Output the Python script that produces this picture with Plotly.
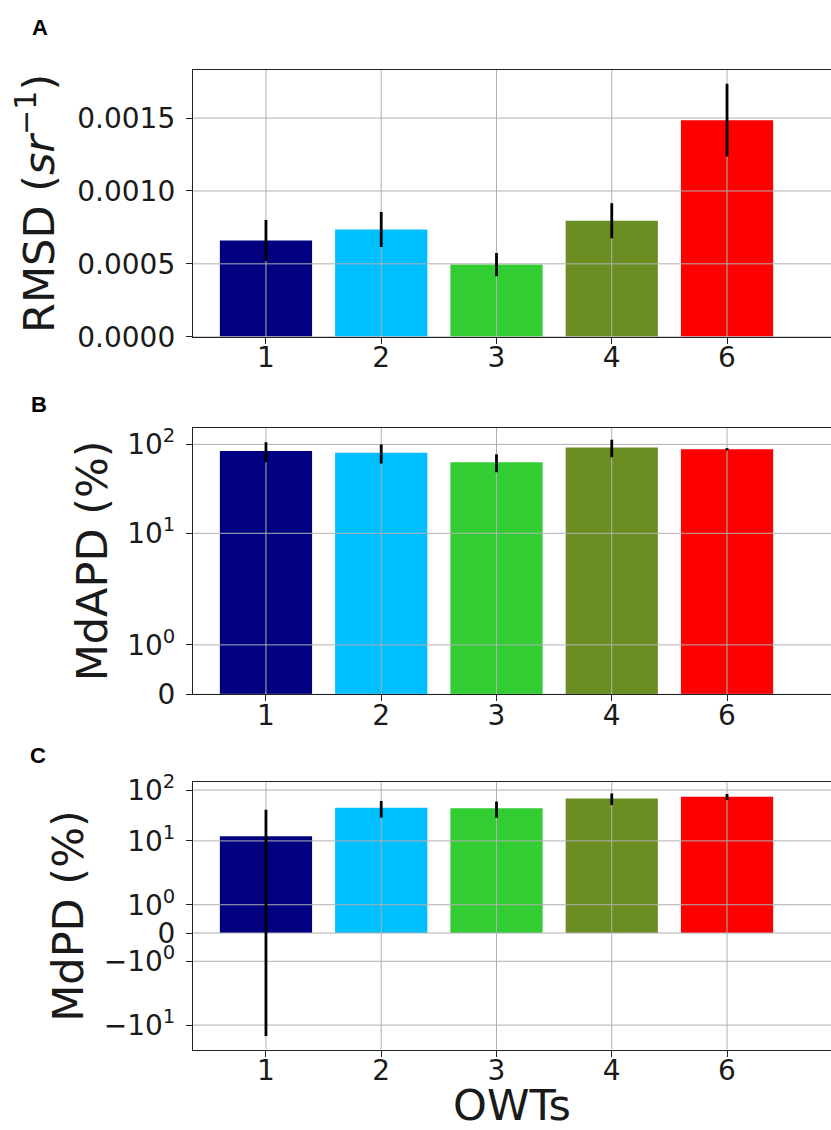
import numpy as np
import plotly.graph_objects as go
from plotly.subplots import make_subplots

# ---------------- data ----------------
owts = ["1", "2", "3", "4", "6"]
bar_colors = ["navy", "deepskyblue", "limegreen", "olivedrab", "red"]

rmsd = [0.00066, 0.000736, 0.000495, 0.000795, 0.001486]
rmsd_err = [0.00014, 0.00012, 0.00008, 0.00012, 0.00025]

mdapd = [84.5, 80.3, 63.1, 92.3, 88.3]
mdapd_err = [21.5, 19.5, 14.5, 20.5, 3.0]

mdpd = [12.3, 45.0, 44.0, 68.0, 74.0]
mdpd_err = [28.7, 16.0, 15.5, 17.0, 10.0]

rmsd_ticks = [0.0, 0.0005, 0.0010, 0.0015]
mdapd_ticks = [0, 1, 10, 100]
mdapd_ticktext = ["0", "10<sup>0</sup>", "10<sup>1</sup>", "10<sup>2</sup>"]
mdpd_ticks = [-10, -1, 0, 1, 10, 100]
mdpd_ticktext = ["\u221210<sup>1</sup>", "\u221210<sup>0</sup>", "0",
                 "10<sup>0</sup>", "10<sup>1</sup>", "10<sup>2</sup>"]

# symlog transform (matplotlib style, linthresh=2, linscale=1, base 10)
LINTHRESH = 2.0
LINSCALE_ADJ = 1.0 / (1.0 - 1.0 / 10.0)


def symlog(v):
    v = np.asarray(v, dtype=float)
    a = np.abs(v)
    logpart = np.sign(v) * LINTHRESH * (LINSCALE_ADJ + np.log10(np.maximum(a, 1e-300) / LINTHRESH))
    return np.where(a <= LINTHRESH, v * LINSCALE_ADJ, logpart)


FONT = "DejaVu Sans"
TICK_SIZE = 28
TITLE_SIZE = 43
TXT = "#1a1a1a"
XRANGE = [-0.633, 4.902]
xpos = list(range(len(owts)))

fig = make_subplots(rows=3, cols=1)

panels = []
# Panel A (linear)
va = np.array(rmsd)
ea = np.array(rmsd_err)
panels.append((1, va, va, ea, ea, rmsd_ticks))
# Panels B and C (symlog emulated)
for row, vals, errs, ticks in [(2, mdapd, mdapd_err, mdapd_ticks), (3, mdpd, mdpd_err, mdpd_ticks)]:
    v = np.array(vals)
    e = np.array(errs)
    ty = symlog(v)
    panels.append((row, v, ty, symlog(v + e) - ty, ty - symlog(v - e), list(symlog(ticks))))

YRANGES = {1: [0, 0.00183], 2: [0, 6.0], 3: [-4.587, 5.924]}
grid_color = "#b0b0b0"

for row, raw, ty, up, dn, tickpos in panels:
    # bars
    fig.add_trace(go.Bar(
        x=xpos, y=ty, marker=dict(color=bar_colors, line=dict(width=0)), width=0.8,
        customdata=raw, hovertemplate="OWT %{text}: %{customdata}<extra></extra>",
        text=owts, textposition="none", showlegend=False), row=row, col=1)
    # grid lines (drawn above the bars, below the error bars)
    gx, gy = [], []
    y0, y1 = YRANGES[row]
    for tv in tickpos:
        gx += [XRANGE[0], XRANGE[1], None]
        gy += [tv, tv, None]
    for xp in xpos:
        gx += [xp, xp, None]
        gy += [y0, y1, None]
    fig.add_trace(go.Scatter(x=gx, y=gy, mode="lines", line=dict(color=grid_color, width=1),
                             hoverinfo="skip", showlegend=False, cliponaxis=True),
                  row=row, col=1)
    # error bars
    fig.add_trace(go.Scatter(
        x=xpos, y=ty, mode="markers", marker=dict(size=1, color="rgba(0,0,0,0)"),
        error_y=dict(type="data", symmetric=False, array=up, arrayminus=dn,
                     color="black", thickness=2.8, width=0),
        hoverinfo="skip", showlegend=False), row=row, col=1)

W, H = 831, 1130
doms = {1: (70.0, 336.7), 2: (427.5, 694.3), 3: (782.3, 1049.7)}

axis_common = dict(
    showline=True, linecolor="#222222", linewidth=1.3,
    ticks="outside", ticklen=6, tickwidth=1.2, tickcolor="#222222",
    tickfont=dict(family=FONT, size=TICK_SIZE, color=TXT),
    showgrid=False, zeroline=False,
)

for r in (1, 2, 3):
    top, bot = doms[r]
    sfx = "" if r == 1 else str(r)
    fig.layout["yaxis" + sfx].update(
        domain=[1 - bot / H, 1 - top / H], range=YRANGES[r], mirror=False,
        ticklabelstandoff=5, **axis_common)
    fig.layout["xaxis" + sfx].update(
        domain=[0, 1], range=XRANGE, mirror=True, tickvals=xpos, ticktext=owts,
        ticklabelstandoff=-10, **axis_common)

title_font = dict(family=FONT, size=TITLE_SIZE, color=TXT)
fig.layout.yaxis.update(tickvals=rmsd_ticks, tickformat=".4f",
                        title=dict(text="RMSD (<i>sr</i><sup>\u22121</sup>)",
                                   font=title_font, standoff=9))
fig.layout.yaxis2.update(tickvals=panels[1][5], ticktext=mdapd_ticktext,
                         title=dict(text="MdAPD (%)", font=title_font, standoff=6))
fig.layout.yaxis3.update(tickvals=panels[2][5], ticktext=mdpd_ticktext,
                         title=dict(text="MdPD (%)", font=title_font, standoff=6))
fig.layout.xaxis3.update(title=dict(text="OWTs", font=title_font, standoff=32))

# panel letters
PLOT_L = 193
for letter, xc, yc in [("A", 40, 28), ("B", 39, 404), ("C", 38, 755)]:
    fig.add_annotation(text="<b>%s</b>" % letter, xref="paper", yref="paper",
                       x=(xc - PLOT_L) / (W - PLOT_L), y=1 - yc / H,
                       xanchor="center", yanchor="middle", showarrow=False,
                       font=dict(family="Liberation Sans", size=22, color="black"))

fig.update_layout(
    width=W, height=H,
    margin=dict(l=PLOT_L, r=0, t=0, b=0, autoexpand=False),
    plot_bgcolor="white", paper_bgcolor="white",
    font=dict(family=FONT, color=TXT),
)

fig.write_html("out.html")
